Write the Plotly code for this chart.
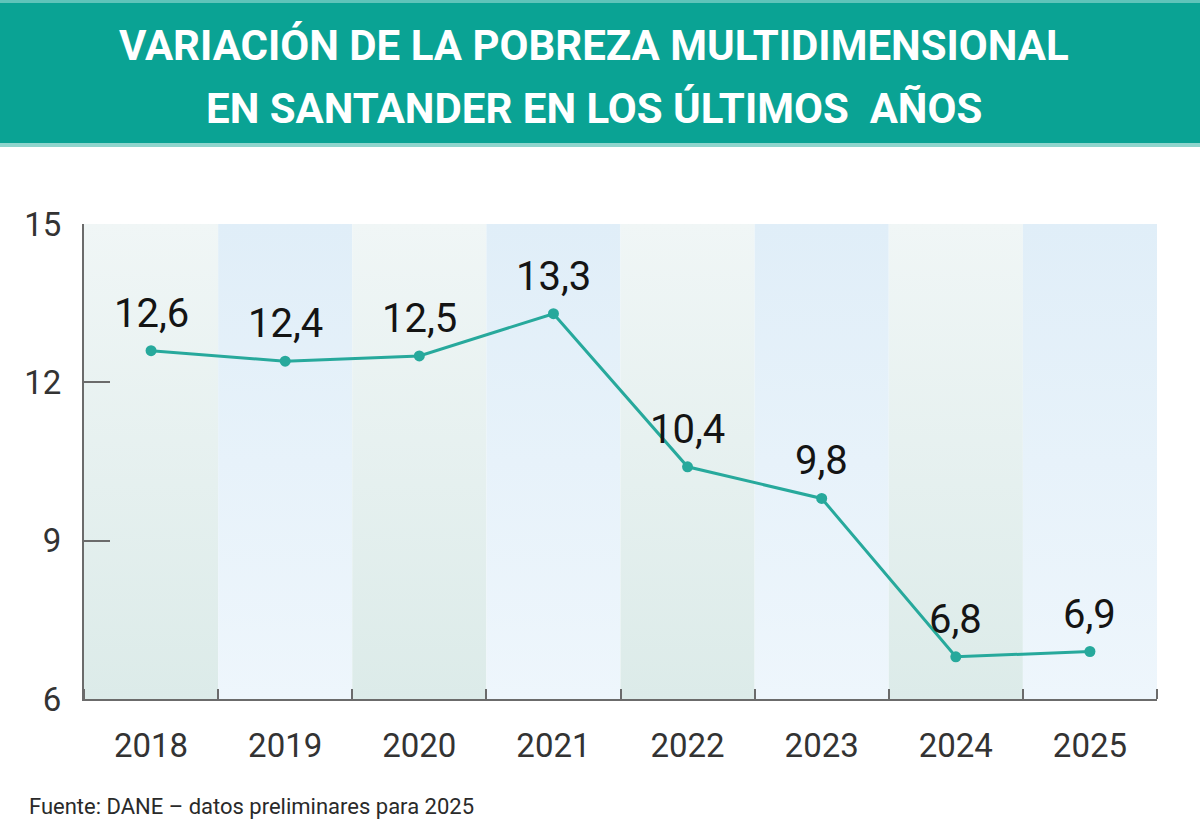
import plotly.graph_objects as go

years = ["2018", "2019", "2020", "2021", "2022", "2023", "2024", "2025"]
values = [12.6, 12.4, 12.5, 13.3, 10.4, 9.8, 6.8, 6.9]
y_ticks = [6, 9, 12, 15]
title_lines = ["VARIACIÓN DE LA POBREZA MULTIDIMENSIONAL", "EN SANTANDER EN LOS ÚLTIMOS  AÑOS"]
source_text = "Fuente: DANE – datos preliminares para 2025"

W, H = 1200, 838
ML, MR, MT, MB = 84, 43, 224, 139
PW, PH = W - ML - MR, H - MT - MB

def px_y(p):
    return (H - MB - p) / PH

def px_x(p):
    return (p - ML) / PW

FONT = "Roboto, Liberation Sans Narrow, DejaVu Sans Condensed, sans-serif"
TEAL = "#27a99c"
BAR = "#0aa394"

xs = list(range(len(years)))
fig = go.Figure()

# alternating gradient bands
green = [[0, "#dcebe9"], [1, "#f0f6f6"]]
blue = [[0, "#eef6fc"], [1, "#e0eef8"]]
for i in xs:
    fig.add_trace(go.Scatter(
        x=[i - 0.5, i + 0.5, i + 0.5, i - 0.5, i - 0.5],
        y=[y_ticks[0], y_ticks[0], y_ticks[-1], y_ticks[-1], y_ticks[0]],
        fill="toself", mode="none",
        fillgradient=dict(type="vertical", colorscale=green if i % 2 == 0 else blue),
        hoverinfo="skip", showlegend=False,
    ))

fig.add_trace(go.Scatter(
    x=xs, y=values, mode="lines+markers",
    line=dict(color=TEAL, width=3),
    marker=dict(color=TEAL, size=11),
    showlegend=False,
))

for i, v in zip(xs, values):
    fig.add_annotation(
        x=i, y=v, text=f"{v:.1f}".replace(".", ","), showarrow=False,
        yanchor="bottom", yshift=12,
        font=dict(family=FONT, size=40, color="#141414"),
    )

# title bar
fig.add_shape(type="rect", xref="paper", yref="paper",
              x0=px_x(0), x1=px_x(W), y0=px_y(145), y1=px_y(0),
              fillcolor=BAR, line=dict(width=0), layer="above")
fig.add_shape(type="rect", xref="paper", yref="paper",
              x0=px_x(0), x1=px_x(W), y0=px_y(3), y1=px_y(0),
              fillcolor="#5fc4ba", line=dict(width=0), layer="above")
fig.add_shape(type="rect", xref="paper", yref="paper",
              x0=px_x(0), x1=px_x(W), y0=px_y(147), y1=px_y(143),
              fillcolor="#8fd5cd", line=dict(width=0), layer="above")
for t, cy in zip(title_lines, [46, 108]):
    fig.add_annotation(
        xref="paper", yref="paper", x=px_x(594), y=px_y(cy),
        text=f"<b>{t}</b>", showarrow=False, xanchor="center", yanchor="middle",
        font=dict(family=FONT, size=42, color="white"),
    )

fig.add_annotation(
    xref="paper", yref="paper", x=px_x(27), y=px_y(806),
    text=source_text, showarrow=False, xanchor="left", yanchor="middle",
    font=dict(family=FONT, size=22, color="#2a2a2a"),
)

fig.update_layout(
    width=W, height=H,
    margin=dict(l=ML, r=MR, t=MT, b=MB, pad=0),
    paper_bgcolor="white", plot_bgcolor="white",
    xaxis=dict(
        range=[-0.5, len(years) - 0.5], tickmode="array", tickvals=xs, ticktext=years,
        ticks="", showgrid=False, zeroline=False,
        showline=True, linecolor="#6b6b6b", linewidth=2,
        tickfont=dict(family=FONT, size=33, color="#333333"),
        ticklabelstandoff=16,
        minor=dict(tickmode="array", tickvals=[i + 0.5 for i in range(-1, len(years))],
                   ticks="inside", ticklen=10, tickwidth=2, tickcolor="#6b6b6b", showgrid=False),
        fixedrange=True,
    ),
    yaxis=dict(
        range=[y_ticks[0], y_ticks[-1]], tickmode="array", tickvals=y_ticks,
        ticks="inside", ticklen=26, tickwidth=2, tickcolor="#6b6b6b",
        showgrid=False, zeroline=False,
        showline=True, linecolor="#6b6b6b", linewidth=2,
        tickfont=dict(family=FONT, size=33, color="#333333"),
        ticklabelstandoff=14,
        fixedrange=True,
    ),
)

fig.write_html("out.html")
